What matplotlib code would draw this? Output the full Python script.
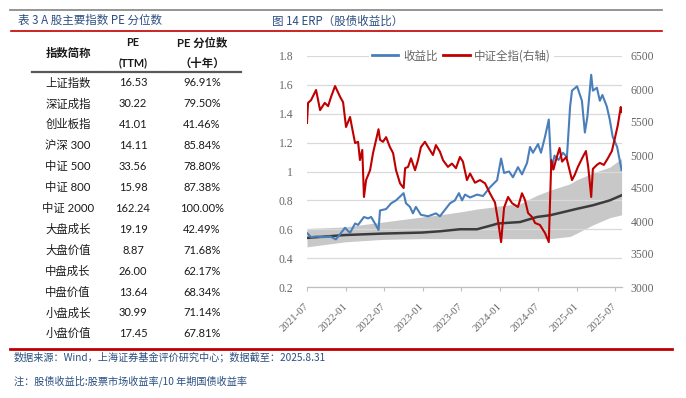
import matplotlib
matplotlib.use('Agg')
import matplotlib.pyplot as plt
import numpy as np
import pandas as pd
from matplotlib.lines import Line2D

# ---------------- data ----------------
index_names = ['上证指数', '深证成指', '创业板指', '沪深 300', '中证 500', '中证 800', '中证 2000',
               '大盘成长', '大盘价值', '中盘成长', '中盘价值', '小盘成长', '小盘价值']
pe_ttm = [16.53, 30.22, 41.01, 14.11, 33.56, 15.98, 162.24, 19.19, 8.87, 26.00, 13.64, 30.99, 17.45]
pe_pct = [96.91, 79.50, 41.46, 85.84, 78.80, 87.38, 100.00, 42.49, 71.68, 62.17, 68.34, 71.14, 67.81]

ratio_dates = ['2021-07-30', '2021-08-18', '2021-09-11', '2021-10-15', '2021-11-16', '2021-12-14',
               '2021-12-28', '2022-01-26', '2022-02-19', '2022-03-15', '2022-03-29', '2022-04-26',
               '2022-05-15', '2022-05-30', '2022-06-17', '2022-07-04', '2022-07-11', '2022-08-09',
               '2022-09-02', '2022-09-25', '2022-10-31', '2022-11-11', '2022-11-30', '2022-12-14',
               '2022-12-28', '2023-01-21', '2023-02-24', '2023-04-02', '2023-04-21', '2023-05-15',
               '2023-06-08', '2023-07-01', '2023-07-20', '2023-08-04', '2023-08-18', '2023-09-11',
               '2023-10-14', '2023-11-11', '2023-12-14', '2024-01-17', '2024-02-05', '2024-02-19',
               '2024-03-14', '2024-04-01', '2024-04-25', '2024-05-14', '2024-06-07', '2024-06-21',
               '2024-07-05', '2024-07-29', '2024-08-12', '2024-08-31', '2024-09-18', '2024-09-30',
               '2024-10-15', '2024-11-03', '2024-11-24', '2024-12-13', '2024-12-28', '2025-01-06',
               '2025-01-30', '2025-02-22', '2025-03-08', '2025-03-20', '2025-04-07', '2025-04-15',
               '2025-05-04', '2025-05-18', '2025-05-30', '2025-06-20', '2025-07-04', '2025-07-18',
               '2025-08-08', '2025-08-29']
ratio_values = [0.574, 0.545, 0.55, 0.545, 0.55, 0.53,
                0.555, 0.61, 0.575, 0.64, 0.63, 0.685,
                0.675, 0.685, 0.64, 0.595, 0.73, 0.74,
                0.78, 0.80, 0.85, 0.78, 0.755, 0.71,
                0.755, 0.70, 0.69, 0.71, 0.69, 0.735,
                0.78, 0.80, 0.85, 0.80, 0.84, 0.82,
                0.84, 0.83, 0.89, 0.94, 1.09, 0.99,
                1.0, 0.96, 1.03, 0.98, 1.06, 1.17,
                1.13, 1.19, 1.13, 1.24, 1.36, 1.01,
                1.11, 1.08, 1.13, 1.10, 1.45, 1.56,
                1.59, 1.49, 1.27, 1.38, 1.67, 1.56,
                1.58, 1.49, 1.53, 1.45, 1.36, 1.24,
                1.17, 1.01]

index_dates = ['2021-07-30', '2021-08-04', '2021-08-18', '2021-09-11', '2021-09-30', '2021-10-22',
               '2021-11-07', '2021-11-21', '2021-12-10', '2022-01-03', '2022-01-17', '2022-01-31',
               '2022-02-19', '2022-02-28', '2022-03-15', '2022-03-29', '2022-04-07', '2022-04-18',
               '2022-04-26', '2022-05-06', '2022-05-25', '2022-06-08', '2022-07-04', '2022-07-11',
               '2022-07-25', '2022-08-09', '2022-08-27', '2022-09-11', '2022-09-25', '2022-10-14',
               '2022-10-31', '2022-11-07', '2022-11-21', '2022-12-05', '2022-12-24', '2023-01-07',
               '2023-01-21', '2023-02-09', '2023-02-24', '2023-03-19', '2023-04-02', '2023-04-21',
               '2023-05-06', '2023-05-29', '2023-06-17', '2023-07-06', '2023-07-25', '2023-08-08',
               '2023-08-27', '2023-09-11', '2023-10-04', '2023-10-28', '2023-11-21', '2023-12-14',
               '2024-01-07', '2024-01-21', '2024-02-05', '2024-02-19', '2024-03-09', '2024-03-28',
               '2024-04-25', '2024-05-14', '2024-05-28', '2024-06-12', '2024-07-01', '2024-07-15',
               '2024-08-07', '2024-08-31', '2024-09-18', '2024-09-30', '2024-10-10', '2024-10-22',
               '2024-11-08', '2024-11-20', '2024-12-10', '2025-01-06', '2025-01-19', '2025-02-03',
               '2025-02-26', '2025-03-13', '2025-03-24', '2025-04-07', '2025-04-15', '2025-05-04',
               '2025-05-18', '2025-06-06', '2025-06-25', '2025-07-14', '2025-07-28', '2025-08-11',
               '2025-08-25', '2025-08-29']
index_values = [5485, 5790, 5830, 5985, 5680, 5790,
                5740, 5880, 6045, 5880, 5800, 5424,
                5576, 5424, 5180, 5200, 4924, 5076,
                4364, 4620, 4770, 5030, 5390, 5230,
                5200, 5270, 5120, 5030, 4770, 4570,
                4500, 4800, 4820, 4950, 4770, 4920,
                5120, 5200, 5120, 5000, 5150, 5050,
                4920, 4820, 4870, 4800, 4970, 4900,
                4620, 4720, 4580, 4620, 4570, 4420,
                4280, 4015, 3680, 4200, 4364, 4270,
                4212, 4420, 4320, 4120, 4060, 3970,
                3940, 3818, 3680, 4924, 4780, 4924,
                5106, 4900, 4970, 4620, 4700, 4820,
                4970, 5060, 4818, 4364, 4790, 4850,
                4880, 4850, 4950, 5060, 5250, 5450,
                5727, 5650]

band_dates = ['2021-07-30', '2022-01-26', '2022-07-25', '2023-01-26', '2023-04-21', '2023-07-25',
              '2023-10-14', '2023-12-29', '2024-01-21', '2024-05-05', '2024-07-24', '2024-09-24',
              '2024-12-28', '2025-01-25', '2025-04-15', '2025-07-04', '2025-08-29']
band_mean = [0.54, 0.56, 0.57, 0.577, 0.586, 0.60, 0.60, 0.63, 0.64, 0.65, 0.685, 0.697,
             0.73, 0.74, 0.766, 0.80, 0.835]
band_upper = [0.605, 0.616, 0.65, 0.685, 0.70, 0.72, 0.74, 0.754, 0.76, 0.777, 0.835, 0.87,
              0.915, 0.94, 0.99, 1.03, 1.09]
band_lower = [0.478, 0.513, 0.53, 0.535, 0.535, 0.535, 0.535, 0.535, 0.535, 0.535, 0.535, 0.535,
              0.55, 0.57, 0.63, 0.68, 0.70]

x_tick_labels = ['2021-07', '2022-01', '2022-07', '2023-01', '2023-07', '2024-01', '2024-07',
                 '2025-01', '2025-07']
left_ticks = [0.2, 0.4, 0.6, 0.8, 1.0, 1.2, 1.4, 1.6, 1.8]
right_ticks = [3000, 3500, 4000, 4500, 5000, 5500, 6000, 6500]

# ---------------- figure ----------------
W, H = 686, 398
fig = plt.figure(figsize=(W / 100, H / 100), dpi=100)


def fx(x):
    return x / W


def fy(y):
    return 1 - y / H


CJK = ['Noto Sans CJK SC', 'DejaVu Sans']
NUM = ['Lato', 'Noto Sans CJK SC']
SERIF = ['Liberation Serif', 'Noto Sans CJK SC']
title_col = '#2b4f81'

# decoration lines
fig.add_artist(Line2D([fx(10), fx(662)], [fy(10), fy(10)], color='#8c8c8c', lw=1.3))
fig.add_artist(Line2D([fx(11), fx(662)], [fy(31), fy(31)], color='#c00000', lw=1.2))
fig.add_artist(Line2D([fx(10), fx(672)], [fy(349), fy(349)], color='#c00000', lw=2.0))
for a, b in [(32, 102), (104, 163), (165, 241)]:
    fig.add_artist(Line2D([fx(a), fx(b)], [fy(72), fy(72)], color='#595959', lw=1.6))

# titles
fig.text(fx(18), fy(20), '表 3 A 股主要指数 PE 分位数', color=title_col, fontsize=8.3,
         va='center', ha='left', family=CJK)
fig.text(fx(272), fy(21), '图 14 ERP（股债收益比）', color=title_col, fontsize=8.3,
         va='center', ha='left', family=CJK)

# footnotes
fig.text(fx(14), fy(357), '数据来源：Wind，上海证券基金评价研究中心；数据截至：2025.8.31',
         color=title_col, fontsize=7.3, va='center', ha='left', family=CJK)
fig.text(fx(14), fy(381), '注：股债收益比:股票市场收益率/10 年期国债收益率',
         color=title_col, fontsize=7.3, va='center', ha='left', family=CJK)

# table
c1, c2, c3 = 68, 133, 202
txt_col = '#1a1a1a'
fig.text(fx(c1), fy(53), '指数简称', fontsize=8.2, fontweight='bold', ha='center', va='center',
         family=NUM, color=txt_col)
fig.text(fx(c2), fy(43), 'PE', fontsize=7.8, fontweight='bold', ha='center', va='center',
         family=NUM, color=txt_col)
fig.text(fx(c2), fy(63), '(TTM)', fontsize=7.8, fontweight='bold', ha='center', va='center',
         family=NUM, color=txt_col)
fig.text(fx(c3), fy(43), 'PE 分位数', fontsize=8.2, fontweight='bold', ha='center', va='center',
         family=NUM, color=txt_col)
fig.text(fx(c3), fy(63), '（十年）', fontsize=8.2, fontweight='bold', ha='center', va='center',
         family=NUM, color=txt_col)
for i, (nm, pe, pc) in enumerate(zip(index_names, pe_ttm, pe_pct)):
    y = 83 + i * 20.9
    fig.text(fx(c1), fy(y), nm, fontsize=8.2, ha='center', va='center', family=NUM, color=txt_col)
    fig.text(fx(c2), fy(y), f'{pe:.2f}', fontsize=8.0, ha='center', va='center', family=NUM,
             color=txt_col)
    fig.text(fx(c3), fy(y), f'{pc:.2f}%', fontsize=8.0, ha='center', va='center', family=NUM,
             color=txt_col)

# chart
ax = fig.add_axes([fx(307), fy(287), (622 - 307) / W, (287 - 56) / H])
ax2 = ax.twinx()
ax.set_zorder(1)
ax2.set_zorder(2)
ax.patch.set_visible(False)
ax2.patch.set_visible(False)

bd = pd.to_datetime(band_dates)
ax.fill_between(bd, band_lower, band_upper, color='#c8c8c8', lw=0, zorder=1)
ax.plot(bd, band_mean, color='#3c3c3c', lw=1.8, zorder=2)
ax.plot(pd.to_datetime(ratio_dates), ratio_values, color='#4a7ebb', lw=1.5, zorder=3,
        solid_joinstyle='round')
ax2.plot(pd.to_datetime(index_dates), index_values, color='#c00000', lw=1.5,
         solid_joinstyle='round')

ax.set_xlim(pd.Timestamp('2021-07-30'), pd.Timestamp('2025-08-31'))
ax.set_ylim(0.2, 1.8)
ax2.set_ylim(3000, 6500)
ax.set_yticks(left_ticks)
ax.set_yticklabels([f'{v:g}' for v in left_ticks], fontfamily=SERIF)
ax2.set_yticks(right_ticks)
ax2.set_yticklabels([str(v) for v in right_ticks], fontfamily=SERIF)
xt = pd.to_datetime([s + '-30' for s in x_tick_labels])
ax.set_xticks(xt)
ax.set_xticklabels(x_tick_labels, rotation=45, ha='right', va='center', rotation_mode='anchor',
                   fontfamily=SERIF)

ax.grid(axis='y', color='#d9d9d9', lw=0.9, zorder=0)
ax.grid(axis='x', visible=False)
for a in (ax, ax2):
    for s in ('top', 'left', 'right'):
        a.spines[s].set_visible(False)
ax2.spines['bottom'].set_visible(False)
ax.spines['bottom'].set_color('#bfbfbf')
ax.spines['bottom'].set_linewidth(0.9)
ax.tick_params(axis='y', length=0, pad=10, labelsize=8.4, labelcolor='#666666')
ax2.tick_params(axis='y', length=0, pad=6, labelsize=8.4, labelcolor='#666666')
ax.tick_params(axis='x', length=3, color='#bfbfbf', pad=10, labelsize=7.8, labelcolor='#666666')

handles = [Line2D([], [], color='#4a7ebb', lw=2), Line2D([], [], color='#c00000', lw=2)]
leg = ax2.legend(handles, ['收益比', '中证全指(右轴)'], loc='center', bbox_to_anchor=(0.49, 1.0),
                 ncol=2, frameon=True, facecolor='white', edgecolor='none', framealpha=1,
                 handlelength=2.3, handletextpad=0.4, columnspacing=0.5,
                 borderpad=0.25, prop={'family': CJK, 'size': 8.3})
for t in leg.get_texts():
    t.set_color('#666666')

fig.savefig('out.png', dpi=100)
